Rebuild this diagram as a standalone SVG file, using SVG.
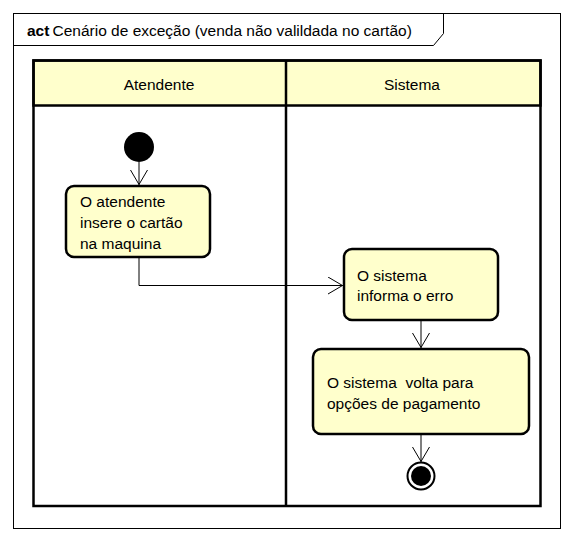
<svg xmlns="http://www.w3.org/2000/svg" width="573" height="541" viewBox="0 0 573 541">
<defs>
<marker id="open" viewBox="0 0 15 18" refX="15" refY="9" markerWidth="15" markerHeight="18" markerUnits="userSpaceOnUse" orient="auto">
<path d="M0,0.5 L14.5,9 L0,17.5" fill="none" stroke="#000" stroke-width="1"/>
</marker>
<style>
text{font-family:"Liberation Sans",Arial,sans-serif;font-size:15.5px;fill:#000;white-space:pre}
.act{fill:#FFFFCC;stroke:#000;stroke-width:2.5}
.lane{fill:none;stroke:#000;stroke-width:2.5}
.hdr{fill:#FFFFCC;stroke:#000;stroke-width:2.5}
.c{fill:none;stroke:#000;stroke-width:1;marker-end:url(#open)}
</style>
</defs>
<rect width="573" height="541" fill="#fff"/>
<g id="frame">
<rect x="13.5" y="13.5" width="547" height="515" fill="#fff" stroke="#000" stroke-width="1"/>
<path d="M13.5,45.5 H433.5 L443.5,33.5 V13.5" fill="none" stroke="#000" stroke-width="1"/>
<text x="27" y="36" font-weight="bold">act</text>
<text x="52.5" y="36">Cenário de exceção (venda não valildada no cartão)</text>
</g>
<g id="lanes">
<rect class="hdr" x="33.5" y="60.5" width="507" height="45"/>
<rect class="lane" x="33.5" y="60.5" width="507" height="445.5"/>
<line x1="286" y1="60.5" x2="286" y2="506" stroke="#000" stroke-width="2.5"/>
<text x="159" y="90" text-anchor="middle">Atendente</text>
<text x="412" y="90" text-anchor="middle">Sistema</text>
</g>
<g id="start">
<circle cx="139" cy="147" r="15" fill="#000"/>
</g>
<g id="a1">
<rect class="act" x="66" y="186" width="144" height="71" rx="8"/>
<text x="80" y="207">O atendente</text>
<text x="80" y="228">insere o cartão</text>
<text x="80" y="249">na maquina</text>
</g>
<g id="a2">
<rect class="act" x="344" y="249" width="154" height="71" rx="8"/>
<text x="357" y="281">O sistema</text>
<text x="357" y="301">informa o erro</text>
</g>
<g id="a3">
<rect class="act" x="313" y="349" width="216" height="85" rx="8"/>
<text x="327" y="388">O sistema  volta para</text>
<text x="327" y="409">opções de pagamento</text>
</g>
<g id="end">
<circle cx="421" cy="476" r="13.5" fill="#fff" stroke="#000" stroke-width="2"/>
<circle cx="421" cy="476" r="10" fill="#000"/>
</g>
<g id="connectors">
<path class="c" d="M139,162 V185"/>
<path class="c" d="M139,257 V285.5 H343"/>
<path class="c" d="M421,321 V348"/>
<path class="c" d="M421,435 V462"/>
</g>
</svg>
